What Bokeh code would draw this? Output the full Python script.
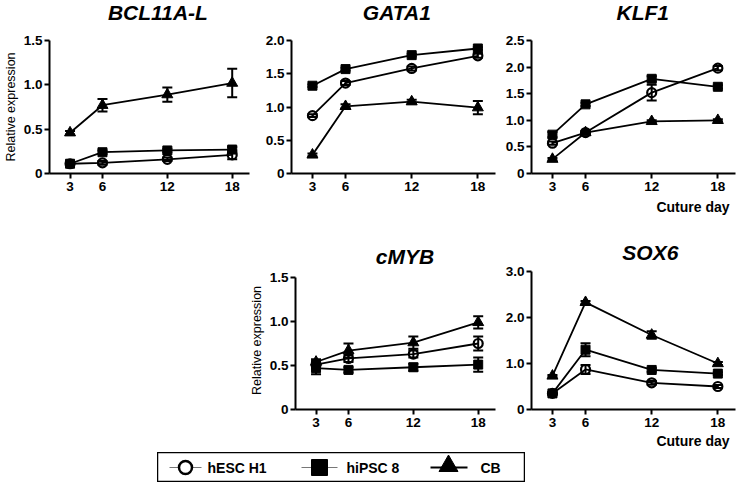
from bokeh.plotting import figure
from bokeh.models import (Range1d, FixedTicker, PrintfTickFormatter, Whisker, TeeHead,
                          ColumnDataSource, Title, Spacer)
from bokeh.layouts import row, column
from bokeh.core.properties import value
from bokeh.embed import file_html
from bokeh.resources import INLINE

FONT = "Liberation Sans"

# ---------------- data ----------------
days = [3, 6, 12, 18]
x_ticks = [3, 6, 12, 18]
series_names = ["hESC H1", "hiPSC 8", "CB"]
gene_titles = ["BCL11A-L", "GATA1", "KLF1", "cMYB", "SOX6"]

# BCL11A-L
bcl_hesc = [0.11, 0.12, 0.16, 0.21]
bcl_hesc_err = [0.01, 0.02, 0.02, 0.05]
bcl_hipsc = [0.11, 0.24, 0.26, 0.27]
bcl_hipsc_err = [0.01, 0.02, 0.02, 0.03]
bcl_cb = [0.46, 0.77, 0.89, 1.02]
bcl_cb_err = [0.02, 0.07, 0.08, 0.16]
bcl_yticks = [0, 0.5, 1.0, 1.5]

# GATA1
gata_hesc = [0.87, 1.36, 1.58, 1.77]
gata_hesc_err = [0.02, 0.03, 0.03, 0.03]
gata_hipsc = [1.32, 1.57, 1.78, 1.88]
gata_hipsc_err = [0.02, 0.02, 0.02, 0.02]
gata_cb = [0.28, 1.01, 1.08, 0.99]
gata_cb_err = [0.02, 0.03, 0.03, 0.10]
gata_yticks = [0, 0.5, 1.0, 1.5, 2.0]

# KLF1
klf_hesc = [0.57, 0.77, 1.52, 1.98]
klf_hesc_err = [0.03, 0.03, 0.15, 0.04]
klf_hipsc = [0.73, 1.30, 1.78, 1.63]
klf_hipsc_err = [0.05, 0.03, 0.05, 0.03]
klf_cb = [0.27, 0.77, 0.98, 1.00]
klf_cb_err = [0.02, 0.02, 0.02, 0.02]
klf_yticks = [0, 0.5, 1.0, 1.5, 2.0, 2.5]

# cMYB
myb_hesc = [0.51, 0.58, 0.63, 0.75]
myb_hesc_err = [0.04, 0.04, 0.04, 0.08]
myb_hipsc = [0.47, 0.45, 0.48, 0.51]
myb_hipsc_err = [0.07, 0.03, 0.04, 0.08]
myb_cb = [0.54, 0.67, 0.76, 0.99]
myb_cb_err = [0.03, 0.08, 0.07, 0.07]
myb_yticks = [0, 0.5, 1.0, 1.5]

# SOX6
sox_hesc = [0.35, 0.87, 0.58, 0.50]
sox_hesc_err = [0.02, 0.10, 0.04, 0.03]
sox_hipsc = [0.35, 1.30, 0.86, 0.78]
sox_hipsc_err = [0.02, 0.14, 0.04, 0.03]
sox_cb = [0.73, 2.33, 1.62, 1.00]
sox_cb_err = [0.02, 0.03, 0.08, 0.03]
sox_yticks = [0, 1.0, 2.0, 3.0]

X_START, X_END = 1.1, 19.6


def add_series(p, ys, errs, marker, size, fill):
    src = ColumnDataSource(dict(x=days, y=ys,
                                upper=[a + b for a, b in zip(ys, errs)],
                                lower=[a - b for a, b in zip(ys, errs)]))
    w = Whisker(source=src, base="x", upper="upper", lower="lower",
                line_color="black", line_width=2,
                upper_head=TeeHead(size=10, line_width=2, line_color="black"),
                lower_head=TeeHead(size=10, line_width=2, line_color="black"))
    p.add_layout(w)
    p.line("x", "y", source=src, line_color="black", line_width=1.8)
    if fill:
        p.scatter("x", "y", source=src, marker=marker, size=size,
                  fill_color="black", line_color="black", line_width=1)
    else:
        p.scatter("x", "y", source=src, marker=marker, size=size,
                  fill_alpha=0, line_color="black", line_width=2.2)


def blank_fig(width, height):
    f = figure(width=width, height=height, x_range=Range1d(0, width),
               y_range=Range1d(0, height), output_backend="svg", toolbar_location=None,
               min_border_left=0, min_border_right=0, min_border_top=0, min_border_bottom=0)
    f.axis.visible = False
    f.grid.visible = False
    f.outline_line_color = None
    return f


def title_fig(text, width, height, cx, cy):
    f = blank_fig(width, height)
    f.text(x=[cx], y=[cy], text=[text], text_font=value(FONT),
           text_font_size="21px", text_font_style="bold italic",
           text_align="center", text_baseline="middle", text_color="black")
    return f


def panel(ytop, yticks, data, width, left, right, top, frame_h, bottom,
          ylabel=None, xlabel=None, xlabel_standoff=5, y_end=None):
    p = figure(width=width, height=top + frame_h + bottom,
               x_range=Range1d(X_START, X_END),
               y_range=Range1d(0, y_end if y_end is not None else ytop),
               output_backend="svg", toolbar_location=None,
               min_border_left=left, min_border_right=right,
               min_border_top=top, min_border_bottom=bottom)
    p.outline_line_color = None
    p.xgrid.visible = False
    p.ygrid.visible = False

    for ax in (p.xaxis[0], p.yaxis[0]):
        ax.axis_line_width = 2
        ax.axis_line_color = "black"
        ax.major_tick_line_width = 2
        ax.major_tick_line_color = "black"
        ax.major_tick_out = 5
        ax.major_tick_in = 0
        ax.minor_tick_out = 0
        ax.minor_tick_in = 0
        ax.major_label_text_font = FONT
        ax.major_label_text_font_size = "13.5px"
        ax.major_label_text_font_style = "bold"
        ax.major_label_text_color = "black"
    p.xaxis[0].ticker = FixedTicker(ticks=x_ticks)
    p.xaxis[0].major_label_standoff = 3
    p.yaxis[0].ticker = FixedTicker(ticks=yticks)
    p.yaxis[0].bounds = (0, ytop)
    p.yaxis[0].formatter = PrintfTickFormatter(format="%.1f")
    p.yaxis[0].major_label_overrides = {0: "0"}
    p.yaxis[0].major_label_standoff = 2
    if ylabel:
        p.yaxis[0].axis_label = ylabel
        p.yaxis[0].axis_label_text_font = FONT
        p.yaxis[0].axis_label_text_font_size = "12.5px"
        p.yaxis[0].axis_label_text_font_style = "normal"
        p.yaxis[0].axis_label_standoff = 3
        p.yaxis[0].axis_label_text_color = "black"

    (hesc, hesc_e), (hipsc, hipsc_e), (cb, cb_e) = data
    add_series(p, cb, cb_e, "triangle", 11, True)
    add_series(p, hipsc, hipsc_e, "square", 9, True)
    add_series(p, hesc, hesc_e, "circle", 9, False)

    if xlabel:
        p.add_layout(Title(text=xlabel, align="right", offset=6, standoff=xlabel_standoff,
                           text_font=FONT, text_font_size="14px",
                           text_font_style="bold", text_color="black"), "below")
    return p


# ---- row 1 (222 px tall) ----
R1_TITLE_H = 26
R1_TOP, R1_FRAME, R1_BOTTOM = 14, 133, 49
p1 = panel(1.5, bcl_yticks,
           [(bcl_hesc, bcl_hesc_err), (bcl_hipsc, bcl_hipsc_err), (bcl_cb, bcl_cb_err)],
           262, 44, 13, R1_TOP, R1_FRAME, R1_BOTTOM, ylabel="Relative expression")
p2 = panel(2.0, gata_yticks,
           [(gata_hesc, gata_hesc_err), (gata_hipsc, gata_hipsc_err), (gata_cb, gata_cb_err)],
           240, 28, 7, R1_TOP, R1_FRAME, R1_BOTTOM)
p3 = panel(2.5, klf_yticks,
           [(klf_hesc, klf_hesc_err), (klf_hipsc, klf_hipsc_err), (klf_cb, klf_cb_err)],
           242, 28, 9, R1_TOP, R1_FRAME, R1_BOTTOM, xlabel="Cuture day", xlabel_standoff=6)
t1 = title_fig(gene_titles[0], 262, R1_TITLE_H, 142, 14)
t2 = title_fig(gene_titles[1], 240, R1_TITLE_H, 124, 14)
t3 = title_fig(gene_titles[2], 242, R1_TITLE_H, 132, 14)

# ---- row 2 (230 px tall): both frames top at same height; cMYB axis stops at 1.5 ----
R2_FRAME, R2_BOTTOM = 138, 43
MYB_AXIS_PX = 132
T4_H, T5_H = 45, 41
p4 = panel(1.5, myb_yticks,
           [(myb_hesc, myb_hesc_err), (myb_hipsc, myb_hipsc_err), (myb_cb, myb_cb_err)],
           256, 44, 7, 49 - T4_H, R2_FRAME, R2_BOTTOM, ylabel="Relative expression",
           y_end=1.5 * R2_FRAME / MYB_AXIS_PX)
p5 = panel(3.0, sox_yticks,
           [(sox_hesc, sox_hesc_err), (sox_hipsc, sox_hipsc_err), (sox_cb, sox_cb_err)],
           242, 28, 9, 49 - T5_H, R2_FRAME, R2_BOTTOM, xlabel="Cuture day", xlabel_standoff=3)
t4 = title_fig(gene_titles[3], 256, T4_H, 140, 11.5)
t5 = title_fig(gene_titles[4], 242, T5_H, 141, 11.5)

# ---------------- legend box ----------------
LW, LH = 368, 30
leg = blank_fig(LW, LH)
leg.outline_line_color = "black"
leg.outline_line_width = 1.5

item_line_x0 = [12, 144, 273]
item_line_x1 = [44, 180, 310]
item_mark_x = [28, 162, 291]
item_text_x = [50, 189, 323]
item_line_color = ["#777777", "#777777", "black"]
item_line_w = [1, 1, 2]
mid = LH / 2
for i in range(3):
    leg.segment(x0=item_line_x0[i], y0=mid, x1=item_line_x1[i], y1=mid,
                line_color=item_line_color[i], line_width=item_line_w[i])
leg.scatter(x=[item_mark_x[0]], y=[mid], marker="circle", size=13, fill_color="white",
            line_color="black", line_width=2.5)
leg.scatter(x=[item_mark_x[1]], y=[mid], marker="square", size=16, fill_color="black",
            line_color="black")
leg.scatter(x=[item_mark_x[2]], y=[mid + 1.5], marker="triangle", size=19, fill_color="black",
            line_color="black")
leg.text(x=item_text_x, y=[mid] * 3, text=series_names, text_font=value(FONT),
         text_font_size="14px", text_font_style="bold", text_baseline="middle",
         text_align="left", text_color="black")

layout = column(
    row(column(t1, p1), column(t2, p2), column(t3, p3)),
    row(Spacer(width=246, height=230), column(t4, p4), column(t5, p5)),
    row(Spacer(width=157, height=LH), leg),
)

open("out.html", "w").write(file_html(layout, INLINE))
